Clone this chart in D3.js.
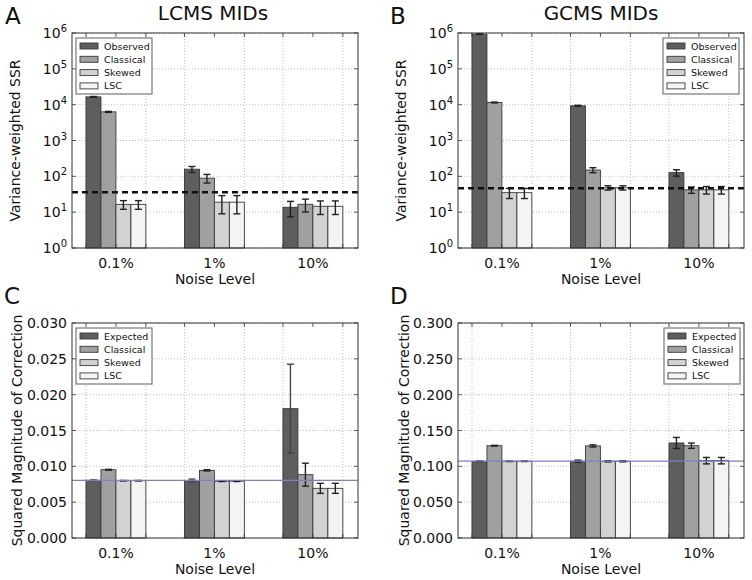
<!DOCTYPE html>
<html><head><meta charset="utf-8">
<script src="https://cdn.jsdelivr.net/npm/d3@7"></script>
<style>body{margin:0;background:#fff}svg{display:block;font-family:"DejaVu Sans",sans-serif}</style>
</head><body><svg id="c" width="752" height="580"></svg>
<script>
// ---- data ----
const noiseLevels = ["0.1%", "1%", "10%"];
const ssrSeries = ["Observed", "Classical", "Skewed", "LSC"];
const corrSeries = ["Expected", "Classical", "Skewed", "LSC"];
const seriesColors = ["#5e5e5e", "#a0a0a0", "#d2d2d2", "#f4f4f4"];

// Panel A: LCMS variance-weighted SSR
const lcmsObserved = [16500, 158, 13.7];
const lcmsObservedErr = [400, 30, 6.3];
const lcmsClassical = [6300, 89, 16.6];
const lcmsClassicalErr = [200, 24, 6.5];
const lcmsSkewed = [16.5, 19, 14.6];
const lcmsSkewedErr = [4.5, 10, 6];
const lcmsLSC = [16.5, 19, 14.6];
const lcmsLSCErr = [4.5, 10, 6];
const lcmsThreshold = 36;

// Panel B: GCMS variance-weighted SSR
const gcmsObserved = [930000, 9300, 127];
const gcmsObservedErr = [15000, 300, 26];
const gcmsClassical = [11500, 150, 42];
const gcmsClassicalErr = [300, 24, 8.5];
const gcmsSkewed = [35, 48, 42];
const gcmsSkewedErr = [11, 6.5, 10];
const gcmsLSC = [35, 48, 42];
const gcmsLSCErr = [11, 6.5, 10];
const gcmsThreshold = 46.5;

// Panel C: LCMS squared magnitude of correction
const lcmsCorrExpected = [0.00805, 0.00802, 0.01805];
const lcmsCorrExpectedErr = [0.00005, 0.0002, 0.0062];
const lcmsCorrClassical = [0.00953, 0.00944, 0.00884];
const lcmsCorrClassicalErr = [0.00005, 0.00008, 0.0016];
const lcmsCorrSkewed = [0.0080, 0.00793, 0.00693];
const lcmsCorrSkewedErr = [0.00003, 0.00005, 0.0007];
const lcmsCorrLSC = [0.0080, 0.00793, 0.00693];
const lcmsCorrLSCErr = [0.00003, 0.00005, 0.0007];
const lcmsCorrRef = 0.00805;

// Panel D: GCMS squared magnitude of correction
const gcmsCorrExpected = [0.1070, 0.1072, 0.1326];
const gcmsCorrExpectedErr = [0.0005, 0.0015, 0.0077];
const gcmsCorrClassical = [0.1288, 0.1285, 0.1288];
const gcmsCorrClassicalErr = [0.0005, 0.0015, 0.0037];
const gcmsCorrSkewed = [0.1070, 0.1070, 0.1079];
const gcmsCorrSkewedErr = [0.0003, 0.0008, 0.0045];
const gcmsCorrLSC = [0.1070, 0.1070, 0.1079];
const gcmsCorrLSCErr = [0.0003, 0.0008, 0.0045];
const gcmsCorrRef = 0.1072;

const logTicks = [1, 10, 100, 1000, 10000, 100000, 1000000];
const linTicksC = [0, 0.005, 0.010, 0.015, 0.020, 0.025, 0.030];
const linTicksD = [0, 0.05, 0.10, 0.15, 0.20, 0.25, 0.30];

const svg = d3.select("#c");
const barW = 0.152;

function panel(o) {
  const g = svg.append("g");
  const x = d3.scaleLinear().domain([-0.446, 2.458]).range([o.left, o.right]);
  const y = o.log ? d3.scaleLog().domain([1, 1e6]).range([o.bottom, o.top])
                  : d3.scaleLinear().domain([0, o.ymax]).range([o.bottom, o.top]);
  const edges = [];
  noiseLevels.forEach((d, i) => { edges.push(i - 2 * barW, i + 2 * barW); });

  // grid
  g.append("g").selectAll("line").data(o.yticks).join("line")
    .attr("x1", o.left).attr("x2", o.right)
    .attr("y1", d => y(d)).attr("y2", d => y(d))
    .attr("stroke", "#b0b0b0").attr("stroke-width", 0.8).attr("stroke-dasharray", "1,2");
  g.append("g").selectAll("line").data(edges).join("line")
    .attr("x1", d => x(d)).attr("x2", d => x(d))
    .attr("y1", o.top).attr("y2", o.bottom)
    .attr("stroke", "#b0b0b0").attr("stroke-width", 0.8).attr("stroke-dasharray", "1,2");

  // bars
  o.series.forEach((s, j) => {
    const vals = o.values[j], errs = o.errors[j];
    const bx = i => x(i - 2 * barW + j * barW);
    g.append("g").selectAll("rect").data(vals).join("rect")
      .attr("x", (d, i) => bx(i)).attr("width", x(barW) - x(0))
      .attr("y", d => y(d)).attr("height", d => o.bottom - y(d))
      .attr("fill", seriesColors[j]).attr("stroke", "#3a3a3a").attr("stroke-width", 0.9);
    const eg = g.append("g").attr("stroke", o.errColor ? o.errColor[j] : "#222").attr("stroke-width", 1.4);
    vals.forEach((d, i) => {
      const cx = bx(i) + (x(barW) - x(0)) / 2;
      const lo = Math.max(d - errs[i], o.log ? 1 : 0), hi = d + errs[i];
      eg.append("line").attr("x1", cx).attr("x2", cx).attr("y1", y(lo)).attr("y2", y(hi));
      eg.append("line").attr("x1", cx - 3.5).attr("x2", cx + 3.5).attr("y1", y(lo)).attr("y2", y(lo));
      eg.append("line").attr("x1", cx - 3.5).attr("x2", cx + 3.5).attr("y1", y(hi)).attr("y2", y(hi));
    });
  });

  // reference line
  if (o.dashed) {
    g.append("line").attr("x1", o.left).attr("x2", o.right)
      .attr("y1", y(o.ref)).attr("y2", y(o.ref))
      .attr("stroke", "#111").attr("stroke-width", 2.5).attr("stroke-dasharray", "6,4");
  } else {
    g.append("line").attr("x1", o.left).attr("x2", o.right)
      .attr("y1", y(o.ref)).attr("y2", y(o.ref))
      .attr("stroke", "#7f7fc4").attr("stroke-width", 1.2);
  }

  // frame
  g.append("rect").attr("x", o.left).attr("y", o.top)
    .attr("width", o.right - o.left).attr("height", o.bottom - o.top)
    .attr("fill", "none").attr("stroke", "#333").attr("stroke-width", 1);

  // ticks (inward, all sides)
  const tk = g.append("g").attr("stroke", "#333").attr("stroke-width", 0.8);
  o.yticks.forEach(t => {
    tk.append("line").attr("x1", o.left).attr("x2", o.left + 4).attr("y1", y(t)).attr("y2", y(t));
    tk.append("line").attr("x1", o.right).attr("x2", o.right - 4).attr("y1", y(t)).attr("y2", y(t));
  });
  edges.concat([0, 1, 2]).forEach(t => {
    tk.append("line").attr("y1", o.bottom).attr("y2", o.bottom - 4).attr("x1", x(t)).attr("x2", x(t));
    tk.append("line").attr("y1", o.top).attr("y2", o.top + 4).attr("x1", x(t)).attr("x2", x(t));
  });

  // y tick labels
  const yl = g.append("g").attr("font-size", 14).attr("fill", "#111").attr("text-anchor", "end");
  o.yticks.forEach(t => {
    const tx = yl.append("text").attr("x", o.left - 5).attr("y", y(t) + 5);
    if (o.log) {
      tx.append("tspan").text("10");
      tx.append("tspan").attr("dy", -6).attr("font-size", 10).text(Math.round(Math.log10(t)));
    } else {
      tx.text(d3.format(o.fmt)(t));
    }
  });

  // x tick labels
  g.append("g").selectAll("text").data(noiseLevels).join("text")
    .attr("x", (d, i) => x(i)).attr("y", o.bottom + 20)
    .attr("text-anchor", "middle").attr("font-size", 14).attr("fill", "#111").text(d => d);
  g.append("text").attr("x", (o.left + o.right) / 2).attr("y", o.bottom + 36)
    .attr("text-anchor", "middle").attr("font-size", 14).attr("fill", "#111").text("Noise Level");

  // y label
  g.append("text").attr("transform", `translate(${o.ylabX},${(o.top + o.bottom) / 2}) rotate(-90)`)
    .attr("text-anchor", "middle").attr("dominant-baseline", "central")
    .attr("font-size", 14).attr("fill", "#111").text(o.ylabel);

  // title and letter
  if (o.title) g.append("text").attr("x", o.titleX).attr("y", o.top - 13)
    .attr("text-anchor", "middle").attr("font-size", 20).attr("fill", "#111").text(o.title);
  g.append("text").attr("x", o.letterX).attr("y", o.letterY)
    .attr("font-size", 23).attr("fill", "#111").text(o.letter);

  // legend
  const lg = g.append("g").attr("transform", `translate(${o.legX},${o.top + 5})`);
  lg.append("rect").attr("width", 76).attr("height", 56).attr("fill", "#fff")
    .attr("stroke", "#777").attr("stroke-width", 1.2);
  o.series.forEach((s, j) => {
    const ry = 8 + j * 13.3;
    lg.append("rect").attr("x", 4).attr("y", ry - 3).attr("width", 18).attr("height", 6)
      .attr("fill", seriesColors[j]).attr("stroke", "#3a3a3a").attr("stroke-width", 0.9);
    lg.append("text").attr("x", 28).attr("y", ry + 3.5).attr("font-size", 9.5)
      .attr("fill", "#111").text(s);
  });
}

panel({left: 72, right: 358, top: 33, bottom: 248, log: true, yticks: logTicks,
  series: ssrSeries,
  values: [lcmsObserved, lcmsClassical, lcmsSkewed, lcmsLSC],
  errors: [lcmsObservedErr, lcmsClassicalErr, lcmsSkewedErr, lcmsLSCErr],
  ref: lcmsThreshold, dashed: true, ylabel: "Variance-weighted SSR", ylabX: 15,
  title: "LCMS MIDs", titleX: 213, letter: "A", letterX: 5, letterY: 24, legX: 4 + 72});

panel({left: 458, right: 744, top: 33, bottom: 248, log: true, yticks: logTicks,
  series: ssrSeries,
  values: [gcmsObserved, gcmsClassical, gcmsSkewed, gcmsLSC],
  errors: [gcmsObservedErr, gcmsClassicalErr, gcmsSkewedErr, gcmsLSCErr],
  ref: gcmsThreshold, dashed: true, ylabel: "Variance-weighted SSR", ylabX: 401,
  title: "GCMS MIDs", titleX: 601, letter: "B", letterX: 390, letterY: 24, legX: 663});

panel({left: 72, right: 358, top: 323, bottom: 538, log: false, ymax: 0.03, yticks: linTicksC, fmt: ".3f",
  series: corrSeries,
  values: [lcmsCorrExpected, lcmsCorrClassical, lcmsCorrSkewed, lcmsCorrLSC],
  errors: [lcmsCorrExpectedErr, lcmsCorrClassicalErr, lcmsCorrSkewedErr, lcmsCorrLSCErr],
  errColor: ["#444", "#222", "#222", "#222"],
  ref: lcmsCorrRef, dashed: false, ylabel: "Squared Magnitude of Correction", ylabX: 17,
  letter: "C", letterX: 4, letterY: 304, legX: 76});

panel({left: 458, right: 744, top: 323, bottom: 538, log: false, ymax: 0.3, yticks: linTicksD, fmt: ".3f",
  series: corrSeries,
  values: [gcmsCorrExpected, gcmsCorrClassical, gcmsCorrSkewed, gcmsCorrLSC],
  errors: [gcmsCorrExpectedErr, gcmsCorrClassicalErr, gcmsCorrSkewedErr, gcmsCorrLSCErr],
  ref: gcmsCorrRef, dashed: false, ylabel: "Squared Magnitude of Correction", ylabX: 404,
  letter: "D", letterX: 390, letterY: 304, legX: 664});
</script></body></html>
